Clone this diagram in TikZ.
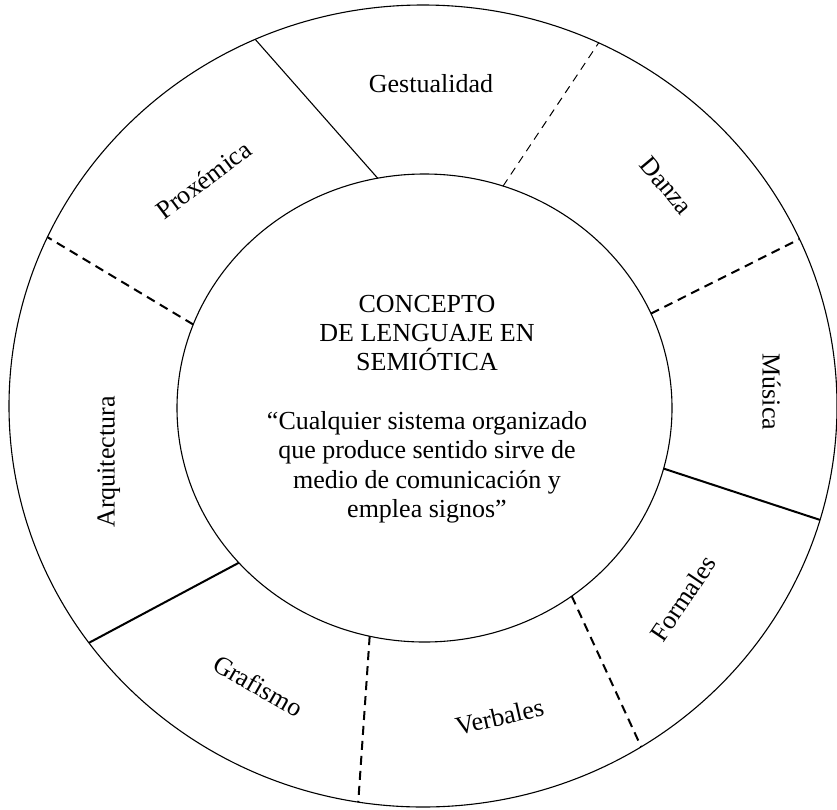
\documentclass[tikz,border=0pt]{standalone}
\usepackage{fontspec}
\setmainfont{Liberation Serif}
\usetikzlibrary{calc}
\begin{document}
\begin{tikzpicture}[x=1pt,y=-1pt,
  ring/.style={line width=1.1pt},
  thinrule/.style={line width=1.1pt},
  boldrule/.style={line width=2pt},
  finedash/.style={line width=1pt, dash pattern=on 8pt off 6pt},
  bolddash/.style={line width=2pt, dash pattern=on 9pt off 6pt},
  sector/.style={font=\fontsize{26}{30}\selectfont, text height=18pt, text depth=5pt, inner sep=0pt},
  core/.style={font=\fontsize{26}{29.3}\selectfont, align=center, inner sep=0pt}]
\useasboundingbox (0,0) rectangle (837,809);

% centres of the two rings
\coordinate (Co) at (423,406);
\coordinate (Ci) at (424.5,408);

% outer and inner boundaries
\draw[ring] (Co) ellipse [x radius=414pt, y radius=401pt];
\draw[ring] (Ci) ellipse [x radius=247.5pt, y radius=234pt];

% end points of the eight dividers (inner / outer)
\foreach \n/\a/\b in {1/100.9/113.9, 2/71.5/64.9, 3/23.8/24.6, 4/-15/-16.5,
                      5/-53.5/-58.2, 6/-102.8/-99, 7/-138.6/-143.8, 8/159.1/155.1}{
  \coordinate (i\n) at ($(Ci)+(\a:247.5pt and 234pt)$);
  \coordinate (o\n) at ($(Co)+(\b:414pt and 401pt)$);
}

% dividers
\draw[thinrule] (i1) -- (o1);
\draw[finedash] (i2) -- (o2);
\draw[bolddash] (i3) -- (o3);
\draw[boldrule] (i4) -- (o4);
\draw[bolddash] (i5) -- (o5);
\draw[bolddash] (i6) -- (o6);
\draw[boldrule] (i7) -- (o7);
\draw[bolddash] (i8) -- (o8);

% sector labels
\node[sector] (gest) at (431,86) {Gestualidad};
\node[sector, rotate=37] (prox) at (205,182) {Proxémica};
\node[sector, rotate=-50] (danza) at (665,187) {Danza};
\node[sector, rotate=-90] (musica) at (769,392) {Música};
\node[sector, rotate=56] (formales) at (685,600) {Formales};
\node[sector, rotate=13] (verbales) at (500,719) {Verbales};
\node[sector, rotate=-30] (grafismo) at (257,688) {Grafismo};
\node[sector, rotate=90] (arq) at (108,462) {Arquitectura};

% central text
\node[core] (concepto) at (427,409) {CONCEPTO\\DE LENGUAJE EN\\SEMIÓTICA\\[29.3pt]“Cualquier sistema organizado\\que produce sentido sirve de\\medio de comunicación y\\emplea signos”};
\end{tikzpicture}
\end{document}
